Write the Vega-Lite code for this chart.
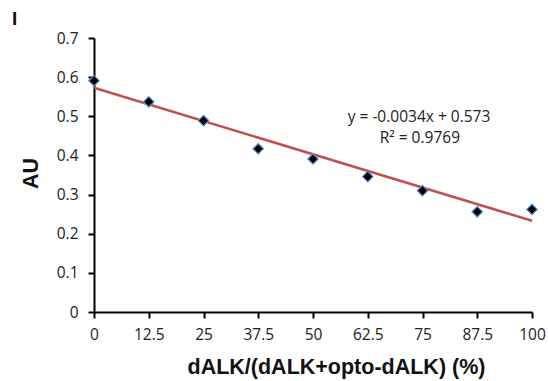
{
  "$schema": "https://vega.github.io/schema/vega-lite/v6.json",
  "width": 438,
  "height": 274,
  "autosize": {"type": "none"},
  "padding": {"left": 94, "top": 38, "right": 16, "bottom": 69},
  "background": "white",
  "title": {"text": "I", "anchor": "start", "frame": "bounds", "font": "Liberation Sans", "fontSize": 19, "fontWeight": "bold", "color": "#111", "dx": -8, "offset": 2},
  "config": {"view": {"stroke": null}},
  "datasets": {
    "points": [
      {"x": 0, "y": 0.591},
      {"x": 12.5, "y": 0.537},
      {"x": 25, "y": 0.489},
      {"x": 37.5, "y": 0.417},
      {"x": 50, "y": 0.391},
      {"x": 62.5, "y": 0.346},
      {"x": 75, "y": 0.31},
      {"x": 87.5, "y": 0.256},
      {"x": 100, "y": 0.262}
    ],
    "trend": [
      {"x": 0, "y": 0.573},
      {"x": 100, "y": 0.233}
    ],
    "labels": [
      {"x": 74.2, "y": 0.4854, "t": "y = -0.0034x + 0.573"},
      {"x": 74.4, "y": 0.4318, "t": "R² = 0.9769"}
    ]
  },
  "encoding": {
    "x": {"field": "x", "type": "quantitative", "scale": {"domain": [0, 100], "nice": false, "zero": false},
      "axis": {"values": [0, 12.5, 25, 37.5, 50, 62.5, 75, 87.5, 100], "labelExpr": "format(datum.value, '.1~f')", "title": "dALK/(dALK+opto-dALK) (%)", "grid": false,
        "domainColor": "black", "domainWidth": 2, "tickColor": "black", "tickWidth": 2, "tickSize": 6,
        "labelFont": "Open Sans", "labelFontSize": 15.5, "labelColor": "#222", "labelPadding": 9, "labelFlush": false, "labelOverlap": false,
        "titleFont": "Liberation Sans", "titleFontSize": 21.5, "titleFontWeight": "bold", "titleColor": "#111",
        "titleX": 242, "titleY": 61, "titleAlign": "center", "titleBaseline": "alphabetic"}},
    "y": {"field": "y", "type": "quantitative", "scale": {"domain": [0, 0.7], "nice": false},
      "axis": {"values": [0, 0.1, 0.2, 0.3, 0.4, 0.5, 0.6, 0.7], "title": "AU", "grid": false,
        "domainColor": "black", "domainWidth": 2, "tickColor": "black", "tickWidth": 2, "tickSize": 6,
        "labelFont": "Open Sans", "labelFontSize": 15.5, "labelColor": "#222", "labelPadding": 10, "labelFlush": false, "labelOverlap": false,
        "labelExpr": "datum.value == 0 ? '0' : format(datum.value, '.1f')",
        "titleFont": "Liberation Sans", "titleFontSize": 21.5, "titleFontWeight": "bold", "titleColor": "#111",
        "titleX": -57, "titleY": 135, "titleAlign": "center", "titleBaseline": "alphabetic", "titleAngle": 270}}
  },
  "layer": [
    {
      "data": {"name": "trend"},
      "mark": {"type": "line", "color": "#c0504d", "strokeWidth": 2.5}
    },
    {
      "data": {"name": "points"},
      "mark": {"type": "point", "shape": "diamond", "filled": true, "fill": "black", "stroke": "#5b8fd0", "strokeWidth": 1.2, "size": 110, "opacity": 1}
    },
    {
      "data": {"name": "labels"},
      "mark": {"type": "text", "font": "Open Sans", "fontSize": 15.5, "color": "#222", "align": "center", "baseline": "alphabetic"},
      "encoding": {
        "text": {"field": "t"}
      }
    }
  ]
}
